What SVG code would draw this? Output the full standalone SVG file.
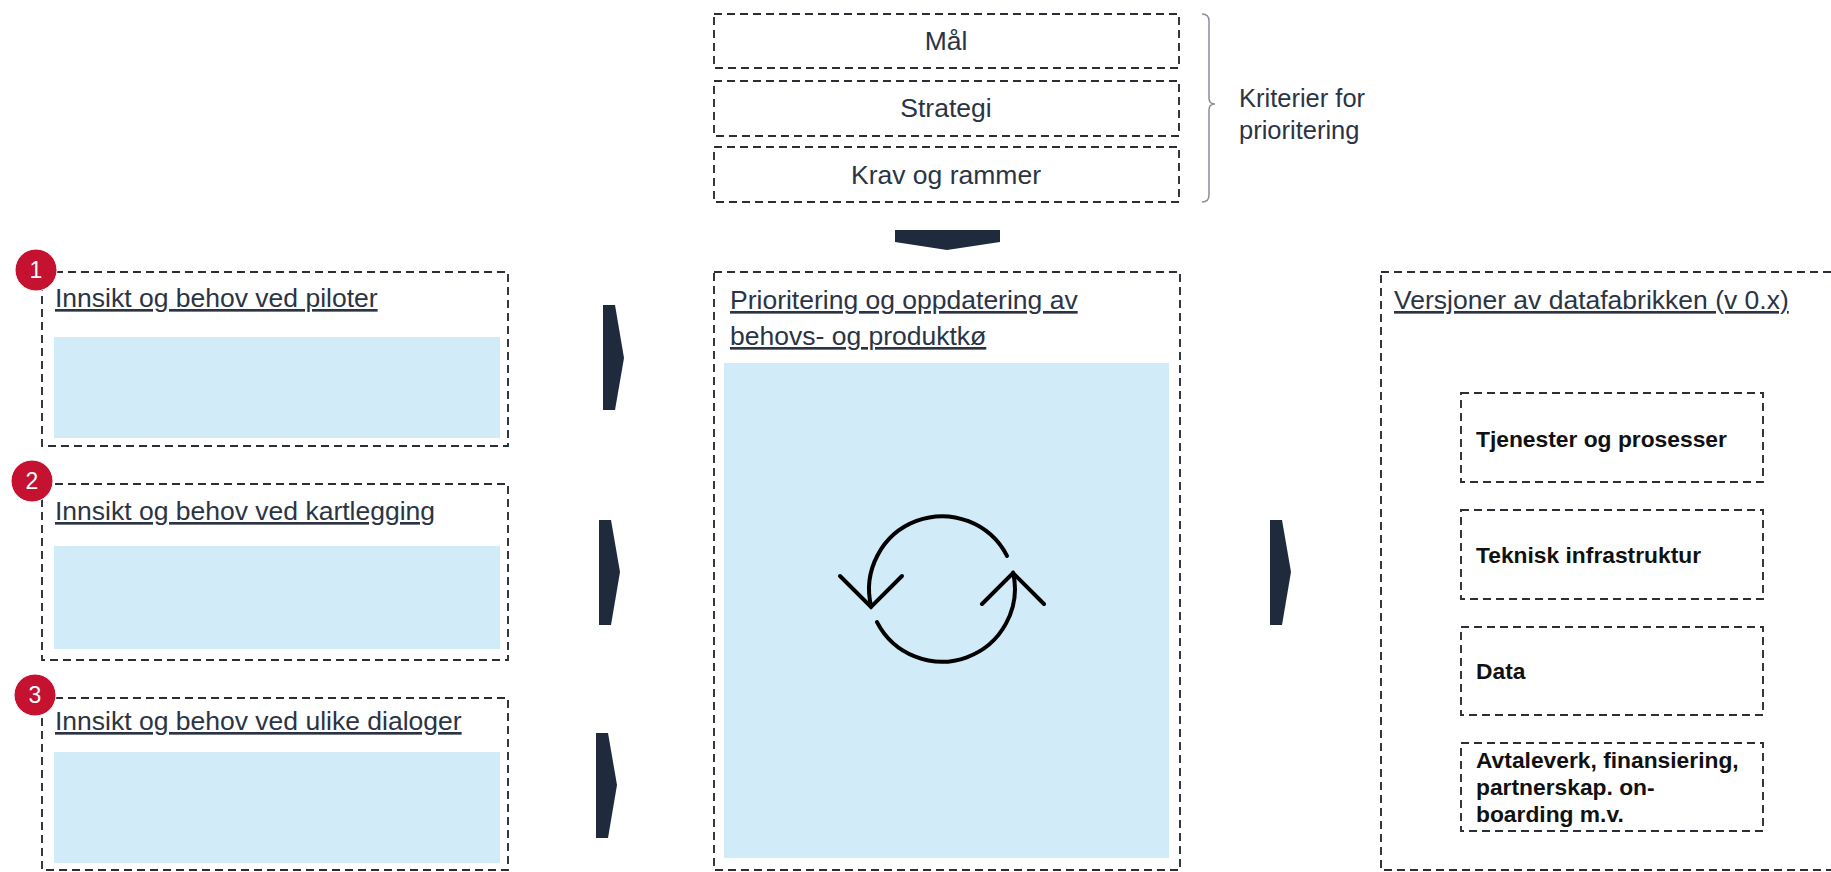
<svg xmlns="http://www.w3.org/2000/svg" width="1831" height="872" viewBox="0 0 1831 872">
<style>
.dash{fill:none;stroke:#2a2f36;stroke-width:1.9;stroke-dasharray:8 5}
.fillb{fill:#d1ebf9}
.t{font-family:"Liberation Sans",Arial,sans-serif;fill:#2b3444}
.title{font-size:26.5px;text-decoration:underline}
.mid{font-size:26.5px;text-anchor:middle}
.b{font-family:"Liberation Sans",Arial,sans-serif;font-weight:bold;font-size:22.8px;fill:#111}
.arr{fill:#1f2b3d}
.badge{fill:#c41230;stroke:#fff;stroke-width:1}
.bn{font-family:"Liberation Sans",Arial,sans-serif;font-size:23px;fill:#fff;text-anchor:middle}
.cyc{fill:none;stroke:#000;stroke-width:4;stroke-linecap:round}
</style>
<rect width="1831" height="872" fill="#fff"/>

<g id="crit-maal">
<rect class="dash" x="714" y="14" width="465" height="54"/>
<text class="t mid" x="946" y="50">Mål</text>
</g>
<g id="crit-strategi">
<rect class="dash" x="714" y="81" width="465" height="55"/>
<text class="t mid" x="946" y="117">Strategi</text>
</g>
<g id="crit-krav">
<rect class="dash" x="714" y="147" width="465" height="55"/>
<text class="t mid" x="946" y="184">Krav og rammer</text>
</g>
<g id="crit-label">
<path d="M1202,14 Q1209,14 1209,21 L1209,98 Q1209,104 1215,104 Q1209,104 1209,110 L1209,195 Q1209,202 1202,202" fill="none" stroke="#8a8f96" stroke-width="1.5"/>
<text class="t" font-size="25.5" x="1239" y="107">Kriterier for</text>
<text class="t" font-size="25.5" x="1239" y="139">prioritering</text>
</g>

<g id="input1">
<rect class="dash" x="42" y="272" width="466" height="174"/>
<rect class="fillb" x="54" y="337" width="446" height="101"/>
<text class="t title" x="55" y="307">Innsikt og behov ved piloter</text>
<circle class="badge" cx="36" cy="270" r="21"/>
<text class="bn" x="36" y="278">1</text>
</g>
<g id="input2">
<rect class="dash" x="42" y="484" width="466" height="176"/>
<rect class="fillb" x="54" y="546" width="446" height="103"/>
<text class="t title" x="55" y="520">Innsikt og behov ved kartlegging</text>
<circle class="badge" cx="32" cy="481" r="21"/>
<text class="bn" x="32" y="489">2</text>
</g>
<g id="input3">
<rect class="dash" x="42" y="698" width="466" height="172"/>
<rect class="fillb" x="54" y="752" width="446" height="111"/>
<text class="t title" x="55" y="730">Innsikt og behov ved ulike dialoger</text>
<circle class="badge" cx="35" cy="695" r="21"/>
<text class="bn" x="35" y="703">3</text>
</g>

<g id="prioritering">
<rect class="dash" x="714" y="272" width="466" height="598"/>
<rect class="fillb" x="724" y="363" width="445" height="495"/>
<text class="t title" x="730" y="309">Prioritering og oppdatering av</text>
<text class="t title" x="730" y="345">behovs- og produktkø</text>
<g id="cycle-icon">
<path class="cyc" d="M871.2,606.7 A73,73 0 0 1 1007,555.9"/>
<path class="cyc" d="M840,576 L871,607 L902,576"/>
<path class="cyc" d="M877,622.1 A73,73 0 0 0 1013.1,572.6"/>
<path class="cyc" d="M982,604 L1013,573 L1044,604"/>
</g>
</g>

<g id="versjoner">
<rect class="dash" x="1381" y="272" width="480" height="598"/>
<text class="t title" x="1394" y="309">Versjoner av datafabrikken (v 0.x)</text>
</g>
<g id="tjenester">
<rect class="dash" x="1461" y="393" width="302" height="89"/>
<text class="b" x="1476" y="447">Tjenester og prosesser</text>
</g>
<g id="teknisk">
<rect class="dash" x="1461" y="510" width="302" height="89"/>
<text class="b" x="1476" y="563">Teknisk infrastruktur</text>
</g>
<g id="data">
<rect class="dash" x="1461" y="627" width="302" height="88"/>
<text class="b" x="1476" y="679">Data</text>
</g>
<g id="avtaleverk">
<rect class="dash" x="1461" y="743" width="302" height="88"/>
<text class="b" x="1476" y="768">Avtaleverk, finansiering,</text>
<text class="b" x="1476" y="795">partnerskap. on-</text>
<text class="b" x="1476" y="822">boarding m.v.</text>
</g>

<g id="connectors">
<path class="arr" d="M895,230 L1000,230 L1000,242 L947,250 L895,242 Z"/>
<path class="arr" d="M603,305 L615,305 L624,358 L615,410 L603,410 Z"/>
<path class="arr" d="M599,520 L611,520 L620,572 L611,625 L599,625 Z"/>
<path class="arr" d="M596,733 L608,733 L617,785 L608,838 L596,838 Z"/>
<path class="arr" d="M1270,520 L1282,520 L1291,572 L1282,625 L1270,625 Z"/>
</g>
</svg>
